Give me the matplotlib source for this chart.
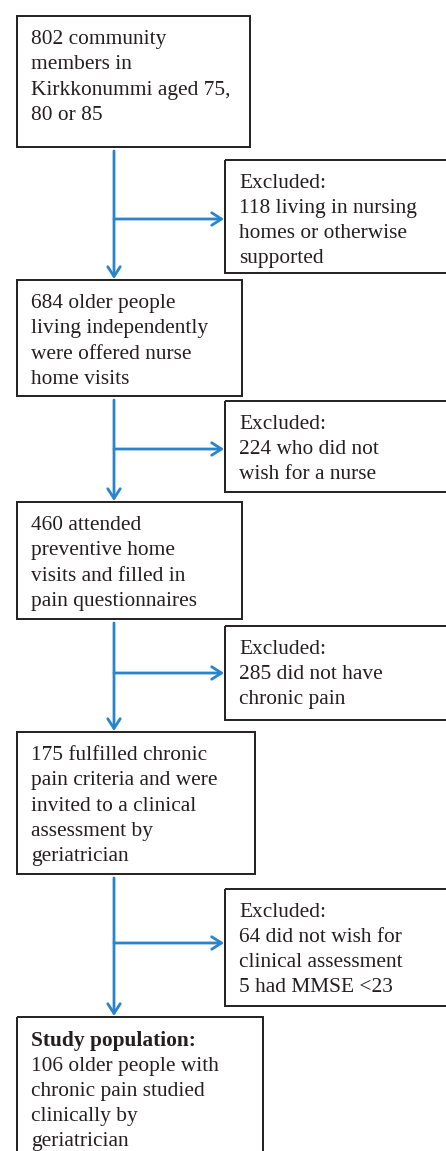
import matplotlib.pyplot as plt
from matplotlib.patches import Rectangle

# flow boxes (main column) and exclusion boxes (right column)
main_texts = [
    "802 community\nmembers in\nKirkkonummi aged 75,\n80 or 85",
    "684 older people\nliving independently\nwere offered nurse\nhome visits",
    "460 attended\npreventive home\nvisits and filled in\npain questionnaires",
    "175 fulfilled chronic\npain criteria and were\ninvited to a clinical\nassessment by\ngeriatrician",
    "106 older people with\nchronic pain studied\nclinically by\ngeriatrician",
]
final_title = "Study population:"
excluded_texts = [
    "Excluded:\n118 living in nursing\nhomes or otherwise\nsupported",
    "Excluded:\n224 who did not\nwish for a nurse",
    "Excluded:\n285 did not have\nchronic pain",
    "Excluded:\n64 did not wish for\nclinical assessment\n5 had MMSE <23",
]

# layout in pixels (x0, y0, x1, y1), y measured from the top
main_boxes = [(17, 16, 250, 147), (17, 280, 242, 396), (17, 502, 242, 619),
              (17, 732, 255, 874), (17, 1017, 263, 1170)]
excl_boxes = [(225, 160, 460, 273), (225, 401, 460, 492), (225, 626, 460, 720),
              (225, 889, 460, 1006)]
arrow_x = 114
branch_y = [219, 449, 673, 943]

text_col = "#231f20"
blue = "#2a84cb"
fs = 15.4
ls = 1.45
pad_top = 14

fig = plt.figure(figsize=(4.46, 11.51), dpi=100)
ax = fig.add_axes([0, 0, 1, 1])
ax.set_xlim(0, 446)
ax.set_ylim(1151, 0)
ax.axis("off")
plt.rcParams["font.family"] = "Liberation Serif"

def box(b):
    x0, y0, x1, y1 = b
    ax.add_patch(Rectangle((x0, y0), x1 - x0, y1 - y0, fill=False,
                           edgecolor=text_col, lw=1.4))

for i, b in enumerate(main_boxes):
    box(b)
    ty = b[1] + pad_top
    if i == len(main_boxes) - 1:
        ax.text(31, ty, final_title, fontsize=fs, fontweight="bold",
                color=text_col, va="top", ha="left")
        ty += 25.5
    ax.text(31, ty, main_texts[i], fontsize=fs, color=text_col,
            va="top", ha="left", linespacing=ls)

for i, b in enumerate(excl_boxes):
    box(b)
    ax.text(239, b[1] + pad_top - 0.5, excluded_texts[i], fontsize=fs, color=text_col,
            va="top", ha="left", linespacing=ls)

# arrows between boxes
for i in range(len(branch_y)):
    top = main_boxes[i][3] + 4
    bot = main_boxes[i + 1][1] - 1
    ax.annotate("", xy=(arrow_x, bot), xytext=(arrow_x, top),
                arrowprops=dict(arrowstyle="->,head_length=0.7,head_width=0.45",
                                color=blue, lw=2, shrinkA=0, shrinkB=0))
    ax.annotate("", xy=(excl_boxes[i][0] - 1, branch_y[i]), xytext=(arrow_x, branch_y[i]),
                arrowprops=dict(arrowstyle="->,head_length=0.7,head_width=0.45",
                                color=blue, lw=2, shrinkA=0, shrinkB=0))

fig.savefig("out.png", dpi=100)
